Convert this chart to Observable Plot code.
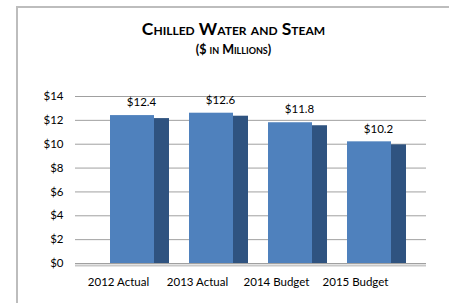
<!DOCTYPE html>
<html>
<head>
<meta charset="utf-8">
<script src="https://cdn.jsdelivr.net/npm/d3@7"></script>
<script src="https://cdn.jsdelivr.net/npm/@observablehq/plot@0.6"></script>
<style>
  html, body { margin: 0; padding: 0; background: #fff; }
  #frame { position: absolute; left: 0; top: 0; width: 449px; height: 303px; overflow: hidden; }
  #border { position: absolute; left: 16px; top: 6px; width: 440px; height: 300px;
            border-top: 2px solid #bdbdbd; border-left: 2px solid #bdbdbd; }
  #title { position: absolute; left: 18px; width: 431px; top: 18px; text-align: center;
           font-family: Lato, "Open Sans", sans-serif; font-weight: bold; font-variant: small-caps;
           font-size: 17.5px; color: #000; line-height: 22px; }
  #subtitle { position: absolute; left: 18px; width: 431px; top: 42px; text-align: center;
           font-family: Lato, "Open Sans", sans-serif; font-weight: bold; font-variant: small-caps;
           font-size: 12.5px; color: #000; line-height: 16px; }
  #chart { position: absolute; left: 0; top: 60px; }
</style>
</head>
<body>
<div id="frame">
  <div id="border"></div>
  <div id="title">Chilled Water and Steam</div>
  <div id="subtitle">($ in Millions)</div>
  <div id="chart"></div>
</div>
<script>
const categories = ["2012 Actual", "2013 Actual", "2014 Budget", "2015 Budget"];
const values = [12.4, 12.6, 11.8, 10.2];
const valueLabels = ["$12.4", "$12.6", "$11.8", "$10.2"];
const yTicks = [0, 2, 4, 6, 8, 10, 12, 14];

const data = categories.map((c, i) => ({category: c, value: values[i], label: valueLabels[i]}));

const font = "Lato, 'Open Sans', sans-serif";

const plot = Plot.plot({
  width: 449,
  height: 243,
  marginLeft: 75,
  marginRight: 23,
  marginTop: 36,
  marginBottom: 40,
  style: {fontFamily: font, fontSize: "11px", color: "#000", background: "transparent"},
  x: {domain: categories, padding: 0.443, label: null},
  y: {domain: [0, 14], ticks: yTicks, label: null},
  marks: [
    Plot.gridY(yTicks, {stroke: "#a0a0a0", strokeOpacity: 1, strokeWidth: 1}),
    Plot.axisY(yTicks, {tickSize: 0, tickPadding: 12, tickFormat: d => "$" + d, fontSize: 11.5}),
    Plot.axisX({tickSize: 0, tickPadding: 14, dx: -14, fontSize: 11.5}),
    Plot.ruleY([0], {stroke: "#c8c8c8", strokeWidth: 2, dy: 2}),
    Plot.barY(data, {x: "category", y: "value", fill: "#2f5380", dx: 15, insetTop: 3}),
    Plot.barY(data, {x: "category", y: "value", fill: "#4f81bd"}),
    Plot.text(data, {x: "category", y: "value", text: "label", dy: -13, dx: 9, fontSize: 11.5, fill: "#000"})
  ]
});
document.getElementById("chart").appendChild(plot);
</script>
</body>
</html>
